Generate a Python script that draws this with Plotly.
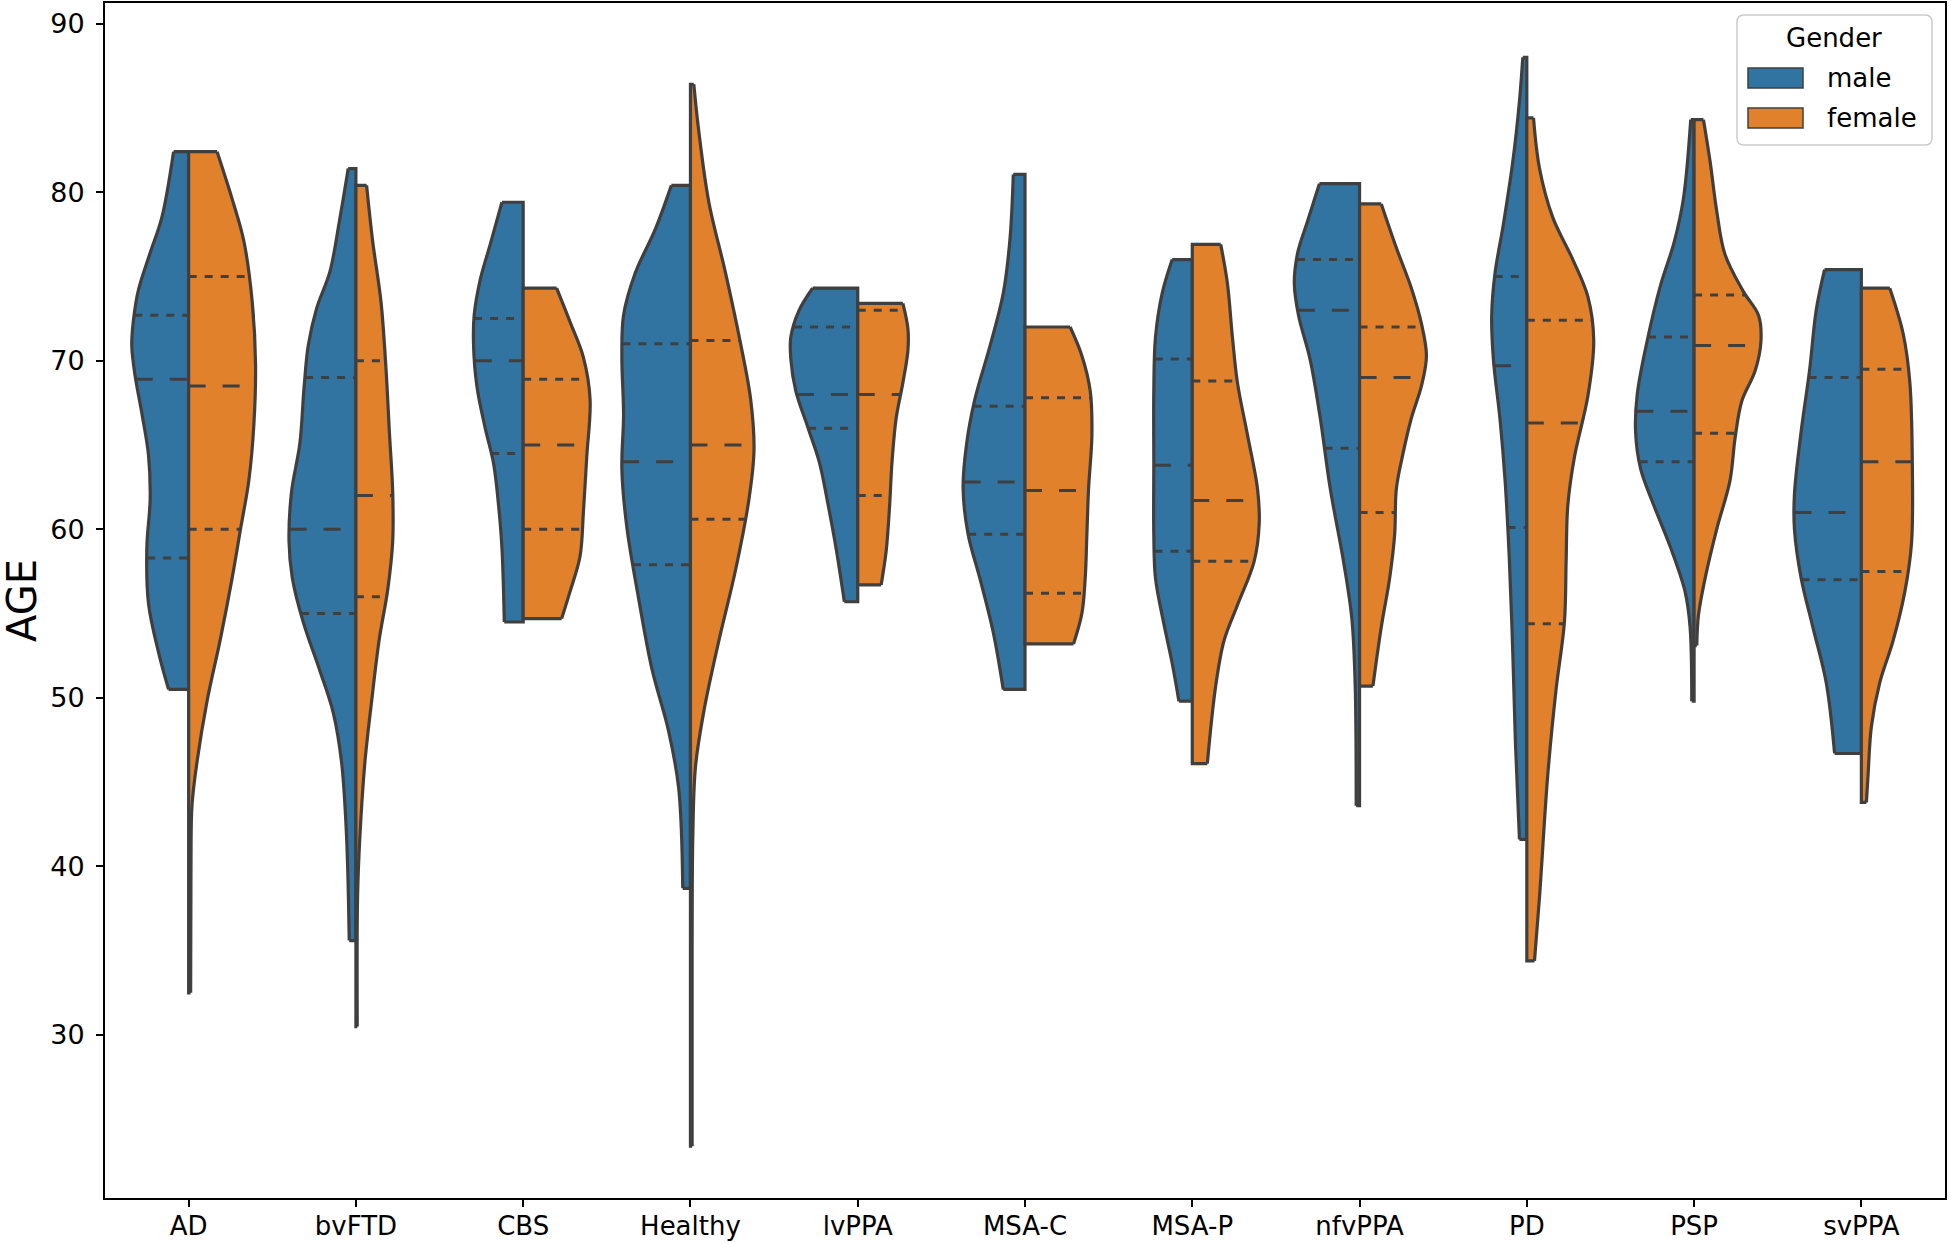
import numpy as np
import plotly.graph_objects as go

categories = ["AD", "bvFTD", "CBS", "Healthy", "lvPPA", "MSA-C", "MSA-P", "nfvPPA", "PD", "PSP", "svPPA"]
genders = ["male", "female"]

# Half-violin outlines: ages (top -> bottom) and density half-widths (category units)
male_ages = [
    [82.4, 78.5, 76.4, 74.2, 72.4, 70.9, 69.1, 66.9, 64.4, 61.8, 58.9, 55.6, 52.7, 50.5],
    [81.4, 78.2, 75.3, 73.1, 70.9, 68.4, 65.1, 62.2, 59.3, 57.1, 54.5, 51.6, 49.1, 46.2, 41.8, 35.6],
    [79.4, 76.9, 74.8, 72.7, 71.0, 68.5, 66.0, 63.9, 61.4, 58.9, 54.5],
    [80.4, 77.8, 75.2, 72.7, 70.2, 66.8, 63.5, 60.1, 55.9, 51.7, 48.0, 44.6, 38.7],
    [74.3, 73.0, 71.4, 70.1, 68.2, 66.1, 64.0, 61.6, 58.9, 55.7],
    [81.05, 77.2, 74.0, 70.85, 67.7, 65.0, 62.4, 59.7, 57.1, 53.9, 50.5],
    [76.0, 74.0, 71.4, 68.2, 64.0, 59.7, 57.1, 54.4, 52.05, 49.8],
    [80.5, 78.3, 76.4, 74.6, 72.7, 70.05, 66.6, 62.4, 58.1, 54.7, 50.7, 43.6],
    [88.0, 85.4, 81.8, 78.1, 75.2, 72.7, 70.1, 66.5, 62.9, 58.1, 52.7, 47.3, 41.6],
    [84.3, 79.6, 77.0, 74.5, 71.2, 68.0, 65.8, 63.6, 61.4, 58.9, 56.3, 54.2, 49.8],
    [75.4, 73.0, 69.4, 65.8, 62.1, 60.0, 57.1, 54.2, 50.9, 46.7],
]
male_widths = [
    [0.09, 0.16, 0.23, 0.30, 0.33, 0.34, 0.32, 0.28, 0.24, 0.23, 0.25, 0.24, 0.18, 0.12],
    [0.046, 0.10, 0.155, 0.235, 0.285, 0.31, 0.335, 0.385, 0.40, 0.38, 0.315, 0.215, 0.135, 0.086, 0.056, 0.04],
    [0.127, 0.197, 0.257, 0.293, 0.297, 0.277, 0.227, 0.177, 0.147, 0.127, 0.113],
    [0.114, 0.21, 0.33, 0.40, 0.41, 0.40, 0.41, 0.38, 0.31, 0.23, 0.13, 0.07, 0.046],
    [0.27, 0.35, 0.40, 0.40, 0.37, 0.30, 0.23, 0.18, 0.13, 0.08],
    [0.07, 0.09, 0.13, 0.21, 0.30, 0.35, 0.37, 0.34, 0.27, 0.19, 0.13],
    [0.12, 0.18, 0.22, 0.23, 0.23, 0.23, 0.22, 0.17, 0.12, 0.08],
    [0.24, 0.31, 0.37, 0.39, 0.365, 0.295, 0.235, 0.175, 0.096, 0.046, 0.026, 0.02],
    [0.024, 0.044, 0.084, 0.14, 0.19, 0.21, 0.20, 0.16, 0.13, 0.104, 0.084, 0.068, 0.044],
    [0.02, 0.064, 0.12, 0.20, 0.28, 0.34, 0.35, 0.32, 0.24, 0.14, 0.054, 0.024, 0.014],
    [0.22, 0.27, 0.31, 0.36, 0.40, 0.40, 0.36, 0.29, 0.21, 0.16],
]
female_ages = [
    [82.4, 79.6, 77.1, 73.5, 69.8, 66.2, 62.9, 60.0, 57.1, 53.5, 49.8, 46.2, 43.6, 40.0, 32.5],
    [80.4, 77.1, 73.5, 69.5, 65.8, 62.2, 59.3, 56.4, 53.5, 49.8, 46.2, 41.8, 38.2, 30.5],
    [74.3, 72.3, 70.2, 67.7, 64.3, 61.0, 58.4, 56.3, 54.7],
    [86.4, 83.6, 79.4, 75.2, 71.0, 67.7, 64.7, 61.8, 57.6, 53.4, 49.2, 45.9, 41.7, 35.3, 23.4],
    [73.4, 71.9, 70.6, 68.7, 66.6, 64.0, 61.3, 58.7, 56.7],
    [72.0, 70.3, 68.2, 65.6, 62.4, 59.7, 57.1, 55.0, 53.2],
    [76.9, 74.6, 71.4, 68.7, 65.6, 62.4, 60.3, 58.1, 55.5, 53.4, 50.7, 46.1],
    [79.3, 76.7, 74.3, 72.2, 70.3, 68.5, 66.6, 64.5, 62.4, 59.7, 57.1, 54.2, 50.7],
    [84.4, 81.4, 78.5, 76.0, 73.8, 71.2, 67.9, 64.3, 61.4, 58.1, 54.5, 50.5, 45.4, 38.2, 34.4],
    [84.3, 81.8, 78.9, 76.3, 74.1, 72.7, 71.2, 69.4, 67.6, 65.4, 62.9, 60.0, 57.1, 54.9, 53.1],
    [74.3, 71.6, 68.7, 63.6, 59.2, 56.3, 53.4, 50.9, 48.3, 45.4, 43.8],
]
female_widths = [
    [0.17, 0.26, 0.33, 0.38, 0.40, 0.39, 0.36, 0.31, 0.26, 0.19, 0.11, 0.05, 0.02, 0.014, 0.012],
    [0.064, 0.10, 0.15, 0.18, 0.20, 0.22, 0.22, 0.19, 0.14, 0.094, 0.054, 0.024, 0.01, 0.008],
    [0.20, 0.28, 0.36, 0.40, 0.38, 0.36, 0.34, 0.28, 0.23],
    [0.02, 0.05, 0.11, 0.21, 0.30, 0.36, 0.38, 0.35, 0.27, 0.17, 0.08, 0.03, 0.014, 0.01, 0.01],
    [0.27, 0.30, 0.30, 0.27, 0.23, 0.205, 0.19, 0.17, 0.14],
    [0.27, 0.34, 0.39, 0.40, 0.38, 0.37, 0.36, 0.34, 0.29],
    [0.17, 0.21, 0.24, 0.27, 0.33, 0.39, 0.40, 0.37, 0.27, 0.19, 0.14, 0.09],
    [0.13, 0.22, 0.31, 0.37, 0.40, 0.37, 0.31, 0.26, 0.22, 0.21, 0.18, 0.13, 0.08],
    [0.04, 0.076, 0.155, 0.275, 0.365, 0.40, 0.365, 0.285, 0.245, 0.235, 0.225, 0.175, 0.125, 0.076, 0.046],
    [0.056, 0.096, 0.135, 0.185, 0.295, 0.385, 0.40, 0.365, 0.285, 0.245, 0.215, 0.135, 0.066, 0.026, 0.016],
    [0.17, 0.25, 0.29, 0.305, 0.30, 0.26, 0.19, 0.11, 0.06, 0.04, 0.03],
]
# quartiles [q25, median, q75]
male_quartiles = [
    [58.3, 68.9, 72.7], [55.0, 60.0, 69.0], [64.5, 70.0, 72.5], [57.9, 64.0, 71.0],
    [66.0, 68.0, 72.0], [59.7, 62.8, 67.3], [58.7, 63.8, 70.1], [64.8, 73.0, 76.0],
    [60.1, 69.7, 75.0], [64.0, 67.0, 71.4], [57.0, 61.0, 69.0],
]
female_quartiles = [
    [60.0, 68.5, 75.0], [56.0, 62.0, 70.0], [60.0, 65.0, 68.9], [60.6, 65.0, 71.2],
    [62.0, 68.0, 73.0], [56.2, 62.3, 67.8], [58.1, 61.7, 68.8], [61.0, 69.0, 72.0],
    [54.4, 66.3, 72.4], [65.7, 70.9, 73.9], [57.5, 64.0, 69.5],
]
y_ticks = [30, 40, 50, 60, 70, 80, 90]

BLUE = "#3274a1"
ORANGE = "#e1812c"
DARK = "#3f3f3f"
FONT = "DejaVu Sans"
LW = 3.2

fig = go.Figure()

series = [(-1, male_ages, male_widths, BLUE), (1, female_ages, female_widths, ORANGE)]
for i, cat in enumerate(categories):
    for side, ages_all, widths_all, color in series:
        ages = ages_all[i]
        widths = widths_all[i]
        xe = [i + side * w for w in widths]
        # flat ends + centre line (also the base for the fill)
        fig.add_trace(go.Scatter(
            x=[xe[0], i, i, xe[-1]], y=[ages[0], ages[0], ages[-1], ages[-1]],
            mode="lines", line=dict(color=DARK, width=LW), showlegend=False, hoverinfo="skip"))
        # smooth outer edge, filled back to the centre line
        fig.add_trace(go.Scatter(
            x=xe, y=ages, mode="lines",
            line=dict(color=DARK, width=LW, shape="spline", smoothing=1),
            fill="tonextx", fillcolor=color, showlegend=False, hoverinfo="skip"))

# quartile lines
for i, cat in enumerate(categories):
    for side, ages_all, widths_all, quarts in [(-1, male_ages, male_widths, male_quartiles),
                                                (1, female_ages, female_widths, female_quartiles)]:
        ages = np.array(ages_all[i])[::-1]
        widths = np.array(widths_all[i])[::-1]
        for k, q in enumerate(quarts[i]):
            w = float(np.interp(q, ages, widths))
            xs = [i - w, i] if side < 0 else [i, i + w]
            dash = "17px,17px" if k == 1 else "8px,8px"
            fig.add_trace(go.Scatter(
                x=xs, y=[q, q], mode="lines",
                line=dict(color=DARK, width=3, dash=dash),
                showlegend=False, hoverinfo="skip"))

W, H = 1951, 1244
L, R, T, B = 105, 6, 3, 46
PW, PH = W - L - R, H - T - B


def px(x):
    return (x - L) / PW


def py(y):
    return (H - B - y) / PH


shapes = []
# legend frame (rounded)
x0, x1, y0, y1 = 1737, 1932, 15, 145
r = 7
rx, ry = r / PW, r / PH
X0, X1, Y0, Y1 = px(x0), px(x1), py(y1), py(y0)
path = (f"M {X0+rx},{Y0} L {X1-rx},{Y0} Q {X1},{Y0} {X1},{Y0+ry} L {X1},{Y1-ry} "
        f"Q {X1},{Y1} {X1-rx},{Y1} L {X0+rx},{Y1} Q {X0},{Y1} {X0},{Y1-ry} L {X0},{Y0+ry} "
        f"Q {X0},{Y0} {X0+rx},{Y0} Z")
shapes.append(dict(type="path", xref="paper", yref="paper", path=path,
                   line=dict(color="#cccccc", width=1.5), fillcolor="rgba(255,255,255,0.85)"))
annotations = [dict(text="Gender", x=px(1834), y=py(38), xref="paper", yref="paper",
                    showarrow=False, xanchor="center", yanchor="middle",
                    font=dict(family=FONT, size=26, color="black"))]
for g, color, yc in [(genders[0], BLUE, 78), (genders[1], ORANGE, 118)]:
    shapes.append(dict(type="rect", xref="paper", yref="paper",
                       x0=px(1748), x1=px(1803), y0=py(yc + 10), y1=py(yc - 10),
                       fillcolor=color, line=dict(color=DARK, width=1.5)))
    annotations.append(dict(text=g, x=px(1825), y=py(yc), xref="paper", yref="paper",
                            showarrow=False, xanchor="left", yanchor="middle",
                            font=dict(family=FONT, size=26, color="black")))

annotations.append(dict(text="AGE", x=px(22), y=py(601), xref="paper", yref="paper",
                        showarrow=False, textangle=-90, xanchor="center", yanchor="middle",
                        font=dict(family=FONT, size=40, color="black")))

fig.update_layout(
    width=W, height=H,
    margin=dict(l=L, r=R, t=T, b=B, pad=0, autoexpand=False),
    paper_bgcolor="white", plot_bgcolor="white",
    showlegend=False,
    shapes=shapes, annotations=annotations,
    font=dict(family=FONT, size=27, color="black"),
)
fig.update_xaxes(range=[-0.5, 10.5], tickmode="array", tickvals=list(range(len(categories))),
                 ticktext=categories, showgrid=False, zeroline=False, automargin=False,
                 showline=True, linecolor="black", linewidth=2, mirror=True,
                 ticks="outside", ticklen=7, tickwidth=2, tickcolor="black",
                 ticklabelstandoff=-3,
                 tickfont=dict(family=FONT, size=26, color="black"))
fig.update_yaxes(range=[20.33, 91.22], tickmode="array", tickvals=y_ticks,
                 ticktext=[str(t) for t in y_ticks], showgrid=False, zeroline=False, automargin=False,
                 showline=True, linecolor="black", linewidth=2, mirror=True,
                 ticks="outside", ticklen=7, tickwidth=2, tickcolor="black",
                 ticklabelstandoff=6,
                 tickfont=dict(family=FONT, size=27, color="black"))

fig.write_html("out.html", config={"displayModeBar": False},
               post_script="document.body.style.margin='0px';")
